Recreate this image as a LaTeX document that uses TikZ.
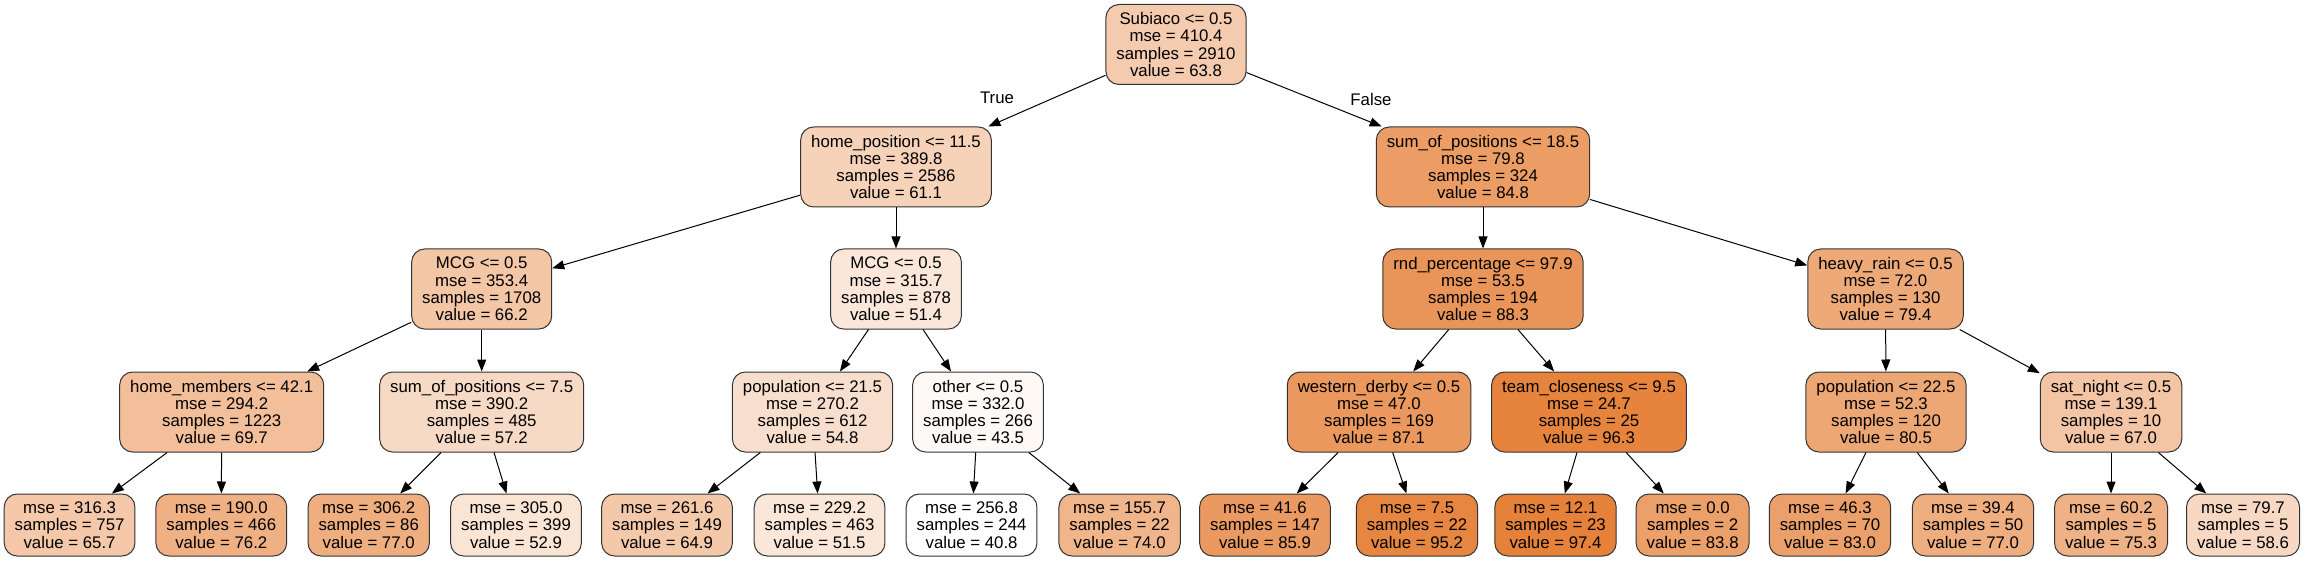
\documentclass[tikz,border=0pt]{standalone}
\usepackage{fontspec}
\setmainfont{Liberation Sans}
\usetikzlibrary{arrows.meta}
\definecolor{treeorange}{RGB}{229,129,57}

\begin{document}
\begin{tikzpicture}[x=1pt,y=-1pt,
  split/.style={draw=black!80, line width=1pt, rounded corners=13pt, align=center,
    inner xsep=10.5pt, minimum height=80pt, font=\fontsize{16.8}{17.3}\selectfont},
  leaf/.style={split, minimum height=62pt},
  edge/.style={line width=1pt, -{Triangle[length=12pt,width=9pt]}},
  elabel/.style={font=\fontsize{16.8}{17.3}\selectfont}]
  \useasboundingbox (0,0) rectangle (2304,561);
  %\fill[white] (0,0) rectangle (2304,561);

  \node[split, fill=treeorange!41] (root) at (1176,44.5) {Subiaco <= 0.5\\mse = 410.4\\samples = 2910\\value = 63.8};

  \node[split, fill=treeorange!36] (homepos) at (896,167) {home\_position <= 11.5\\mse = 389.8\\samples = 2586\\value = 61.1};
  \node[split, fill=treeorange!78] (sumpos18) at (1483,167) {sum\_of\_positions <= 18.5\\mse = 79.8\\samples = 324\\value = 84.8};

  \node[split, fill=treeorange!45] (mcgleft) at (481.7,289) {MCG <= 0.5\\mse = 353.4\\samples = 1708\\value = 66.2};
  \node[split, fill=treeorange!19] (mcgright) at (896,289) {MCG <= 0.5\\mse = 315.7\\samples = 878\\value = 51.4};
  \node[split, fill=treeorange!84] (rndpct) at (1483,289) {rnd\_percentage <= 97.9\\mse = 53.5\\samples = 194\\value = 88.3};
  \node[split, fill=treeorange!68] (heavyrain) at (1885.5,289) {heavy\_rain <= 0.5\\mse = 72.0\\samples = 130\\value = 79.4};

  \node[split, fill=treeorange!51] (homemem) at (221.7,412) {home\_members <= 42.1\\mse = 294.2\\samples = 1223\\value = 69.7};
  \node[split, fill=treeorange!29] (sumpos7) at (481.7,412) {sum\_of\_positions <= 7.5\\mse = 390.2\\samples = 485\\value = 57.2};
  \node[split, fill=treeorange!25] (pop21) at (812.5,412) {population <= 21.5\\mse = 270.2\\samples = 612\\value = 54.8};
  \node[split, fill=treeorange!5] (other) at (978,412) {other <= 0.5\\mse = 332.0\\samples = 266\\value = 43.5};
  \node[split, fill=treeorange!82] (westderby) at (1379,412) {western\_derby <= 0.5\\mse = 47.0\\samples = 169\\value = 87.1};
  \node[split, fill=treeorange!98] (teamclose) at (1589,412) {team\_closeness <= 9.5\\mse = 24.7\\samples = 25\\value = 96.3};
  \node[split, fill=treeorange!70] (pop22) at (1886,412) {population <= 22.5\\mse = 52.3\\samples = 120\\value = 80.5};
  \node[split, fill=treeorange!46] (satnight) at (2111,412) {sat\_night <= 0.5\\mse = 139.1\\samples = 10\\value = 67.0};

  \node[leaf, fill=treeorange!44] (leafa) at (69.6,525) {mse = 316.3\\samples = 757\\value = 65.7};
  \node[leaf, fill=treeorange!62] (leafb) at (221.3,525) {mse = 190.0\\samples = 466\\value = 76.2};
  \node[leaf, fill=treeorange!64] (leafc) at (368.7,525) {mse = 306.2\\samples = 86\\value = 77.0};
  \node[leaf, fill=treeorange!21] (leafd) at (516,525) {mse = 305.0\\samples = 399\\value = 52.9};
  \node[leaf, fill=treeorange!43] (leafe) at (667,525) {mse = 261.6\\samples = 149\\value = 64.9};
  \node[leaf, fill=treeorange!19] (leaff) at (819.6,525) {mse = 229.2\\samples = 463\\value = 51.5};
  \node[leaf, fill=white] (leafg) at (971.6,525) {mse = 256.8\\samples = 244\\value = 40.8};
  \node[leaf, fill=treeorange!59] (leafh) at (1119.6,525) {mse = 155.7\\samples = 22\\value = 74.0};
  \node[leaf, fill=treeorange!80] (leafi) at (1265,525) {mse = 41.6\\samples = 147\\value = 85.9};
  \node[leaf, fill=treeorange!96] (leafj) at (1417,525) {mse = 7.5\\samples = 22\\value = 95.2};
  \node[leaf, fill=treeorange] (leafk) at (1555.5,525) {mse = 12.1\\samples = 23\\value = 97.4};
  \node[leaf, fill=treeorange!76] (leafl) at (1692.6,525) {mse = 0.0\\samples = 2\\value = 83.8};
  \node[leaf, fill=treeorange!75] (leafm) at (1830,525) {mse = 46.3\\samples = 70\\value = 83.0};
  \node[leaf, fill=treeorange!64] (leafn) at (1973,525) {mse = 39.4\\samples = 50\\value = 77.0};
  \node[leaf, fill=treeorange!61] (leafo) at (2111,525) {mse = 60.2\\samples = 5\\value = 75.3};
  \node[leaf, fill=treeorange!31] (leafp) at (2243,525) {mse = 79.7\\samples = 5\\value = 58.6};

  \node[elabel] (truelbl) at (997,98) {True};
  \node[elabel] (falselbl) at (1371,99) {False};

  \draw[edge] (root) -- (homepos);
  \draw[edge] (root) -- (sumpos18);
  \draw[edge] (homepos) -- (mcgleft);
  \draw[edge] (homepos) -- (mcgright);
  \draw[edge] (sumpos18) -- (rndpct);
  \draw[edge] (sumpos18) -- (heavyrain);
  \draw[edge] (mcgleft) -- (homemem);
  \draw[edge] (mcgleft) -- (sumpos7);
  \draw[edge] (mcgright) -- (pop21);
  \draw[edge] (mcgright) -- (other);
  \draw[edge] (rndpct) -- (westderby);
  \draw[edge] (rndpct) -- (teamclose);
  \draw[edge] (heavyrain) -- (pop22);
  \draw[edge] (heavyrain) -- (satnight);
  \draw[edge] (homemem) -- (leafa);
  \draw[edge] (homemem) -- (leafb);
  \draw[edge] (sumpos7) -- (leafc);
  \draw[edge] (sumpos7) -- (leafd);
  \draw[edge] (pop21) -- (leafe);
  \draw[edge] (pop21) -- (leaff);
  \draw[edge] (other) -- (leafg);
  \draw[edge] (other) -- (leafh);
  \draw[edge] (westderby) -- (leafi);
  \draw[edge] (westderby) -- (leafj);
  \draw[edge] (teamclose) -- (leafk);
  \draw[edge] (teamclose) -- (leafl);
  \draw[edge] (pop22) -- (leafm);
  \draw[edge] (pop22) -- (leafn);
  \draw[edge] (satnight) -- (leafo);
  \draw[edge] (satnight) -- (leafp);
\end{tikzpicture}
\end{document}
